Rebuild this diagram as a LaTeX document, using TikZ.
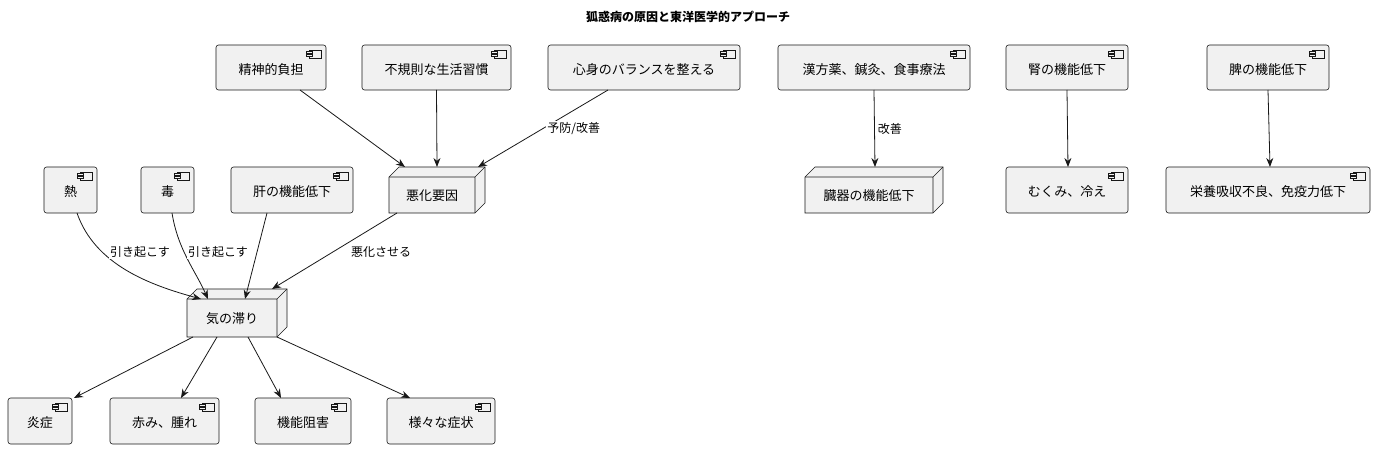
\documentclass[tikz,border=0pt]{standalone}
\usepackage{fontspec}
\setmainfont{Noto Sans CJK JP}
\usetikzlibrary{arrows.meta}
\definecolor{bg}{HTML}{F1F1F1}
\definecolor{ln}{HTML}{181818}
\begin{document}
\begin{tikzpicture}[x=1pt,y=-1pt,
  comp/.style={draw=ln,fill=bg,rounded corners=2.5pt,line width=0.6pt},
  lbl/.style={font=\fontsize{13}{15}\selectfont,inner sep=0pt},
  el/.style={font=\fontsize{12}{14}\selectfont,inner sep=1pt,fill=white},
  ar/.style={draw=ln,line width=0.8pt,-{Stealth[length=9pt,width=7pt]}}]
\useasboundingbox (0,0) rectangle (1377,449);
\node[font=\bfseries\fontsize{12}{14}\selectfont] (title) at (688,17) {狐惑病の原因と東洋医学的アプローチ};
% component macro
\def\comp#1#2#3#4#5#6{%
  \draw[comp] (#2,#3) rectangle (#4,#5);
  \node[lbl] (#1) at ({(#2+#4)/2},{(#3+#5)/2+2}) {#6};
  \coordinate (#1-n) at ({(#2+#4)/2},#3);
  \coordinate (#1-s) at ({(#2+#4)/2},#5);
  \begin{scope}[line width=0.5pt,draw=ln]
  \draw[fill=bg] ({#4-17},{#3+5}) rectangle ({#4-5},{#3+13});
  \draw[fill=bg] ({#4-20},{#3+6.5}) rectangle ({#4-14},{#3+8.5});
  \draw[fill=bg] ({#4-20},{#3+9.5}) rectangle ({#4-14},{#3+11.5});
  \end{scope}}
\def\nd#1#2#3#4#5#6{%
  \draw[draw=ln,fill=bg,line width=0.6pt] (#2,#3) -- ({#2+10},{#3-10}) -- ({#4+10},{#3-10}) -- ({#4+10},{#5-10}) -- (#4,#5) -- (#2,#5) -- cycle;
  \draw[draw=ln,line width=0.6pt] (#2,#3) -- (#4,#3) -- ({#4+10},{#3-10}) (#4,#3) -- (#4,#5);
  \node[lbl] (#1) at ({(#2+#4)/2},{(#3+#5)/2+1}) {#6};}
\comp{a}{216}{45}{326}{90}{精神的負担}
\comp{b}{362}{45}{511}{90}{不規則な生活習慣}
\comp{c}{548}{45}{740}{90}{心身のバランスを整える}
\comp{d}{778}{45}{970}{90}{漢方薬、鍼灸、食事療法}
\comp{e}{1006}{45}{1128}{90}{腎の機能低下}
\comp{f}{1207}{45}{1329}{90}{脾の機能低下}
\comp{g}{44}{167}{97}{213}{熱}
\comp{h}{141}{167}{194}{213}{毒}
\comp{i}{231}{167}{353}{213}{肝の機能低下}
\comp{j}{1006}{167}{1128}{213}{むくみ、冷え}
\comp{k}{1166}{167}{1370}{213}{栄養吸収不良、免疫力低下}
\comp{l}{8}{398}{72}{444}{炎症}
\comp{m}{110}{398}{219}{444}{赤み、腫れ}
\comp{n}{255}{398}{351}{444}{機能阻害}
\comp{o}{387}{398}{495}{444}{様々な症状}
\nd{akka}{389}{177}{475}{213}{悪化要因}
\nd{zo}{805}{177}{933}{213}{臓器の機能低下}
\nd{ki}{187}{299}{277}{337}{気の滞り}
\coordinate (akN1) at (405,167); \coordinate (akN2) at (437,167); \coordinate (akN3) at (478,167);
\draw[ar] (300,90) -- (akN1);
\draw[ar] (b-s) -- (akN2);
\draw[ar] (608,90) -- node[el,pos=0.5,right=3pt]{予防/改善} (akN3);
\draw[ar] (d-s) -- node[el,right=2pt]{改善} (875,167);
\draw[ar] (e-s) -- (1068,167);
\draw[ar] (f-s) -- (1270,167);
\draw[ar] (77,213) .. controls (95,265) and (150,285) .. (201,299);
\node[el] at (140,252) {引き起こす};
\draw[ar] (172,213) .. controls (178,250) and (195,270) .. (208,299);
\node[el] at (218,252) {引き起こす};
\draw[ar] (267,213) -- (245,299);
\draw[ar] (397,213) -- (272,289);
\node[el] at (381,252) {悪化させる};
\draw[ar] (193,337) -- (74,398);
\draw[ar] (217,337) -- (181,398);
\draw[ar] (248,337) -- (281,398);
\draw[ar] (277,337) -- (410,398);
\end{tikzpicture}
\end{document}
